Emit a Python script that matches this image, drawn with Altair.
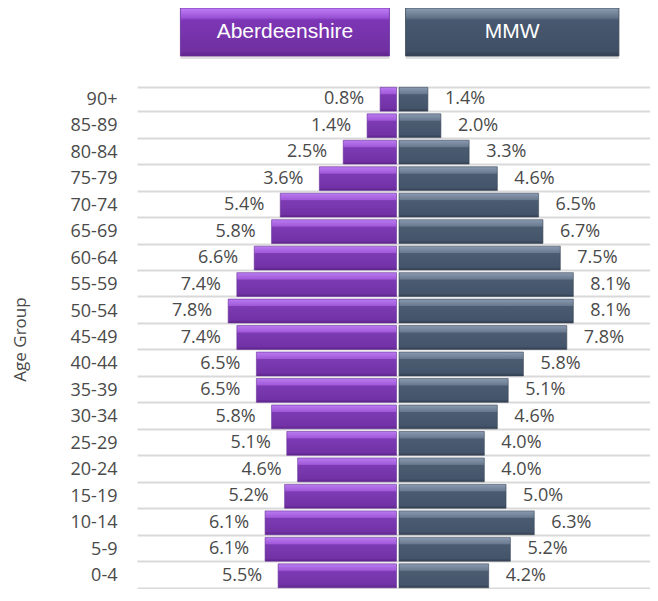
import altair as alt
import pandas as pd

ages = ["90+", "85-89", "80-84", "75-79", "70-74", "65-69", "60-64", "55-59", "50-54",
        "45-49", "40-44", "35-39", "30-34", "25-29", "20-24", "15-19", "10-14", "5-9", "0-4"]
aberdeenshire = [0.8, 1.4, 2.5, 3.6, 5.4, 5.8, 6.6, 7.4, 7.8, 7.4, 6.5, 6.5, 5.8, 5.1, 4.6, 5.2, 6.1, 6.1, 5.5]
mmw = [1.4, 2.0, 3.3, 4.6, 6.5, 6.7, 7.5, 8.1, 8.1, 7.8, 5.8, 5.1, 4.6, 4.0, 4.0, 5.0, 6.3, 5.2, 4.2]
series_names = ["Aberdeenshire", "MMW"]

left_df = pd.DataFrame({
    "age": ages,
    "x": [-v for v in aberdeenshire],
    "zero": [0.0] * len(ages),
    "label": [f"{v:.1f}%" for v in aberdeenshire],
})
right_df = pd.DataFrame({
    "age": ages,
    "x": mmw,
    "zero": [0.0] * len(ages),
    "label": [f"{v:.1f}%" for v in mmw],
})
header_df = pd.DataFrame({
    "name": series_names,
    "x0": [-10.0, 0.37],
    "x1": [-0.37, 10.2],
})
header_df["xm"] = (header_df["x0"] + header_df["x1"]) / 2

FONT = "Open Sans"
TXT = "#4a4a4a"

xscale = alt.Scale(domain=[-12, 12], nice=False, zero=False, range=[0, 521])
yscale = alt.Scale(domain=ages, paddingInner=0.1, paddingOuter=0.05)

def grad(stops):
    return alt.Gradient(
        gradient="linear", x1=0, x2=0, y1=0, y2=1,
        stops=[alt.GradientStop(color=c, offset=o) for o, c in stops],
    )

purple = grad([(0, "#b97cf0"), (0.27, "#a259da"), (0.31, "#7c3bb3"), (0.88, "#7232a6"), (1, "#5a2387")])
slate = grad([(0, "#8a9ab0"), (0.27, "#6a7b90"), (0.31, "#4b5b70"), (0.88, "#44546a"), (1, "#323e4f")])
purple_h = grad([(0, "#c07ef8"), (0.2, "#9a52d6"), (0.25, "#7d36b6"), (0.9, "#7030a0"), (1, "#5d248a")])
slate_h = grad([(0, "#8c9cb2"), (0.2, "#627387"), (0.25, "#485870"), (0.9, "#3f4f64"), (1, "#313d4e")])

y_enc = alt.Y(
    "age:N", sort=ages, scale=yscale,
    axis=alt.Axis(
        title="Age Group", grid=True, tickBand="extent", domain=False, ticks=False,
        labelFont=FONT, labelFontSize=18, labelColor=TXT, labelPadding=20,
        gridColor="#d9d9d9", gridWidth=2,
        titleFont=FONT, titleFontSize=17, titleColor=TXT, titleFontWeight="normal",
        titleX=-117, titleY=253, titleAngle=-90, titleAlign="center", titleBaseline="middle",
    ),
)

left_bars = alt.Chart(left_df).mark_bar(
    color=purple, x2Offset=-1, stroke="#6a2d9a", strokeWidth=0.6
).encode(
    x=alt.X("x:Q", scale=xscale, axis=None), x2="zero:Q", y=y_enc
)
right_bars = alt.Chart(right_df).mark_bar(
    color=slate, xOffset=1.5, stroke="#3a4759", strokeWidth=0.6
).encode(
    x=alt.X("zero:Q", scale=xscale, axis=None), x2="x:Q", y=y_enc
)
left_text = alt.Chart(left_df).mark_text(
    align="right", baseline="middle", dx=-16, font=FONT, fontSize=18, color=TXT
).encode(x=alt.X("x:Q", scale=xscale, axis=None), y=y_enc, text="label:N")
right_text = alt.Chart(right_df).mark_text(
    align="left", baseline="middle", dx=17, font=FONT, fontSize=18, color=TXT
).encode(x=alt.X("x:Q", scale=xscale, axis=None), y=y_enc, text="label:N")

hbase = alt.Chart(header_df)
h_shadow = hbase.mark_rect(color="#000000", opacity=0.12, clip=False).encode(
    x=alt.X("x0:Q", scale=xscale, axis=None), x2="x1:Q",
    y=alt.value(-75), y2=alt.value(-27),
)
h_left = hbase.transform_filter(alt.datum.name == "Aberdeenshire").mark_rect(
    color=purple_h, stroke="#6a2d9a", strokeWidth=0.8, clip=False
).encode(
    x=alt.X("x0:Q", scale=xscale, axis=None), x2="x1:Q",
    y=alt.value(-78), y2=alt.value(-30),
)
h_right = hbase.transform_filter(alt.datum.name == "MMW").mark_rect(
    color=slate_h, stroke="#3a4759", strokeWidth=0.8, clip=False
).encode(
    x=alt.X("x0:Q", scale=xscale, axis=None), x2="x1:Q",
    y=alt.value(-78), y2=alt.value(-30),
)
h_text = hbase.mark_text(
    font="Liberation Sans", fontSize=21, color="white", baseline="middle", align="center"
).encode(
    x=alt.X("xm:Q", scale=xscale, axis=None), y=alt.value(-54), text="name:N"
)

chart = alt.layer(
    left_bars, right_bars, left_text, right_text, h_shadow, h_left, h_right, h_text
).properties(
    width=513, height=503,
    autosize=alt.AutoSizeParams(type="none"),
    padding={"left": 129, "top": 78, "right": 0, "bottom": 0},
).configure_view(stroke=None)

chart.save("out.html", embed_options={"renderer": "svg", "actions": False})
